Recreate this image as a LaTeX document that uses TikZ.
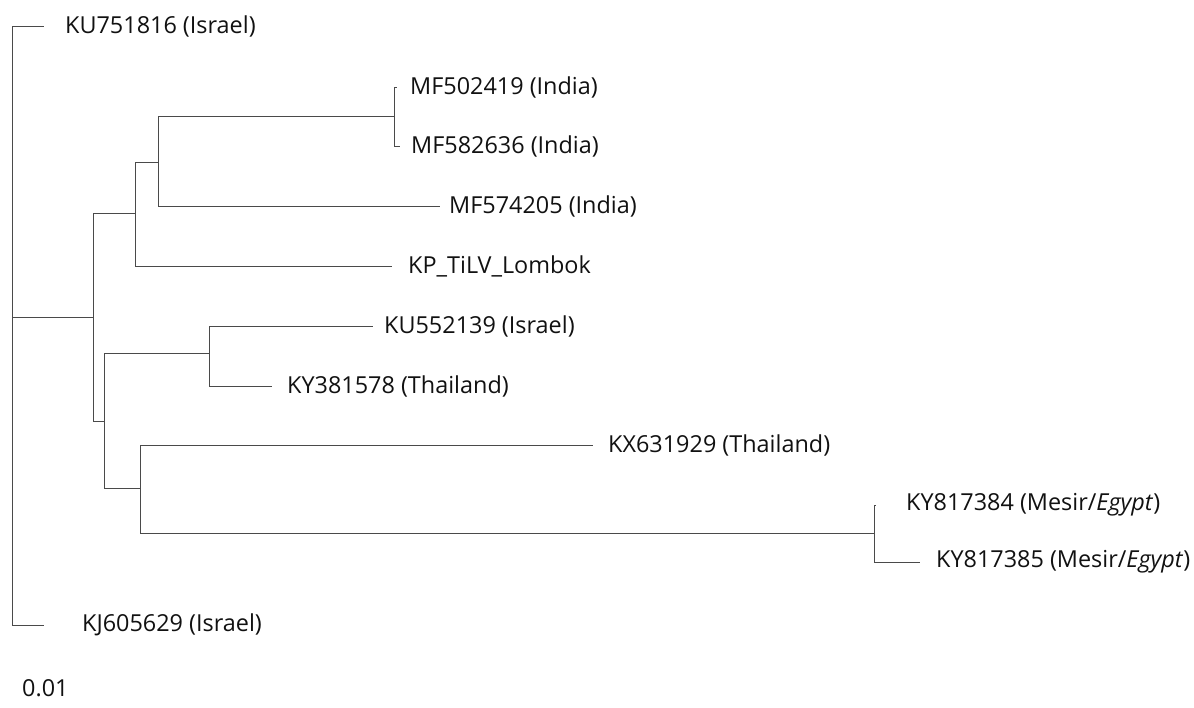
\documentclass[tikz,border=0pt]{standalone}
\usepackage{fontspec}
\setmainfont{Open Sans}
\usetikzlibrary{positioning}
\definecolor{branchgray}{HTML}{4A4A4A}
\definecolor{textdark}{HTML}{111111}
\tikzset{
  branch/.style={draw=branchgray, line width=0.9pt},
  taxon/.style={anchor=west, inner sep=0pt, font=\fontsize{23.4}{28}\selectfont, text=textdark},
  scalelabel/.style={anchor=west, inner sep=0pt, font=\fontsize{23.4}{28}\selectfont, text=textdark}
}
\newcommand{\clade}[3]{
  \draw[branch] (#1) |- (#2);
  \draw[branch] (#1) |- (#3);
}

\begin{document}
\begin{tikzpicture}[x=1pt, y=-1pt]
\useasboundingbox (0,0) rectangle (1194,707);
% internal nodes
\coordinate (root) at (12,317);
\coordinate (n1) at (93,317);
\coordinate (n2) at (135,213);
\coordinate (n3) at (158,162);
\coordinate (n4) at (394,116);
\coordinate (n5) at (104,421);
\coordinate (n6) at (209,353);
\coordinate (n7) at (140,488);
\coordinate (n8) at (874,533);
% tips
\coordinate (tKU751816) at (44,26);
\coordinate (tMF502419) at (397,87);
\coordinate (tMF582636) at (400,146);
\coordinate (tMF574205) at (440,206);
\coordinate (tKP) at (392,266);
\coordinate (tKU552139) at (373,326);
\coordinate (tKY381578) at (272,386);
\coordinate (tKX631929) at (593,445);
\coordinate (tKY817384) at (876,505);
\coordinate (tKY817385) at (920,562);
\coordinate (tKJ605629) at (44,625);
% labels
\node[taxon] (KU751816) at (65,26) {KU751816 (Israel)};
\node[taxon] (MF502419) at (410,87) {MF502419 (India)};
\node[taxon] (MF582636) at (411,146) {MF582636 (India)};
\node[taxon] (MF574205) at (449,206) {MF574205 (India)};
\node[taxon] (KP) at (408,266) {KP\_TiLV\_Lombok};
\node[taxon] (KU552139) at (384,326) {KU552139 (Israel)};
\node[taxon] (KY381578) at (287,386) {KY381578 (Thailand)};
\node[taxon] (KX631929) at (608,445) {KX631929 (Thailand)};
\node[taxon] (KY817384) at (906,505) {KY817384 (Mesir/\textit{Egypt})};
\node[taxon] (KY817385) at (936,562) {KY817385 (Mesir/\textit{Egypt})};
\node[taxon] (KJ605629) at (82,625) {KJ605629 (Israel)};
% branches
\draw[branch] (root) |- (tKU751816);
\draw[branch] (root) |- (tKJ605629);
\draw[branch] (root) -- (n1);
\clade{n1}{n2}{n5}
\clade{n2}{n3}{tKP}
\clade{n3}{n4}{tMF574205}
\clade{n4}{tMF502419}{tMF582636}
\clade{n5}{n6}{n7}
\clade{n6}{tKU552139}{tKY381578}
\clade{n7}{tKX631929}{n8}
\clade{n8}{tKY817384}{tKY817385}
% scale
\node[scalelabel] (scale) at (22,688) {0.01};
\end{tikzpicture}
\end{document}
